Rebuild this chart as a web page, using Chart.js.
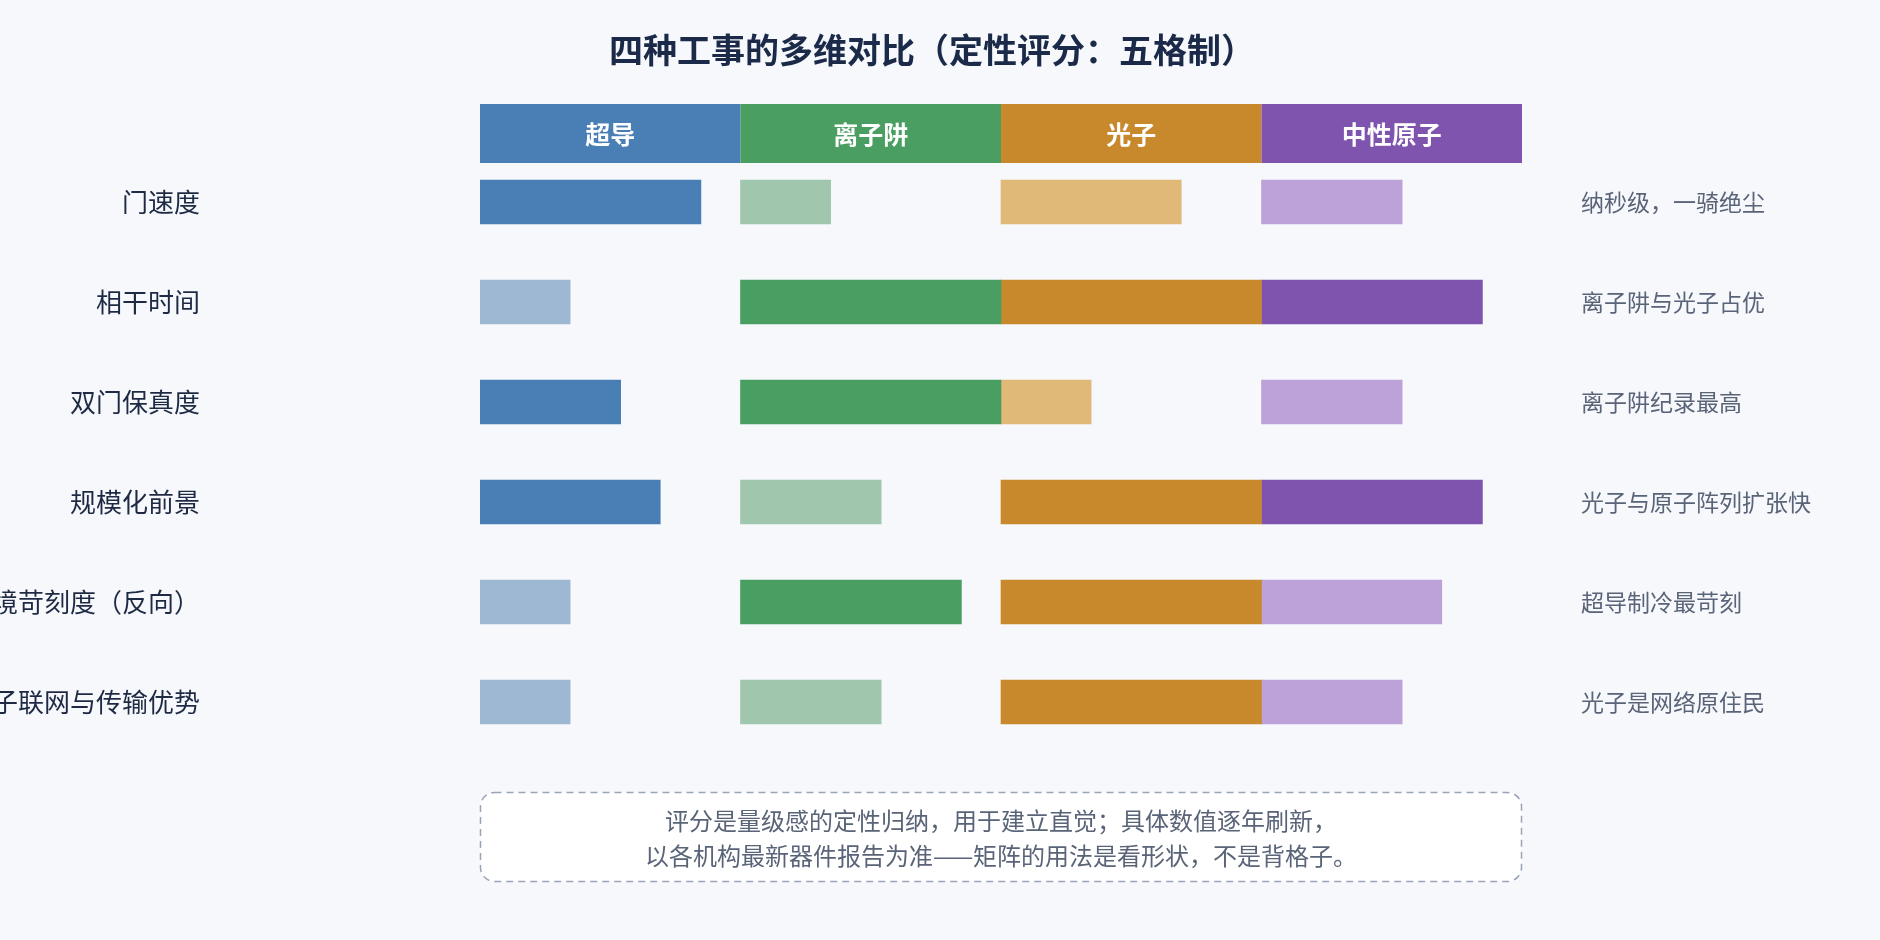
<!DOCTYPE html>
<html><head><meta charset="utf-8">
<script src="https://cdn.jsdelivr.net/npm/chart.js@4"></script>
<style>html,body{margin:0;padding:0;background:#f6f8fc;overflow:hidden}</style>
</head><body>
<canvas id="c" width="1880" height="940"></canvas>
<script>
const title = "四种工事的多维对比（定性评分：五格制）";
const platforms = ["超导","离子阱","光子","中性原子"];
const dimensions = ["门速度","相干时间","双门保真度","规模化前景","环境苛刻度（反向）","量子联网与传输优势"];
const notes = ["纳秒级，一骑绝尘","离子阱与光子占优","离子阱纪录最高","光子与原子阵列扩张快","超导制冷最苛刻","光子是网络原住民"];
const scoreSC = [4.24,1.73,2.7,3.46,1.73,1.73];
const scoreIon = [1.73,5,5,2.7,4.24,2.7];
const scorePh = [3.46,5,1.73,5,5,5];
const scoreNA = [2.7,4.24,2.7,4.24,3.46,2.7];
const strongSC = [1,0,1,1,0,0];
const strongIon = [0,1,1,0,1,0];
const strongPh = [0,1,0,1,1,1];
const strongNA = [0,1,0,1,0,0];
const footnote = ["评分是量级感的定性归纳，用于建立直觉；具体数值逐年刷新，","以各机构最新器件报告为准——矩阵的用法是看形状，不是背格子。"];

const dark = ["#4a7fb5","#4a9e62","#c8882c","#7e54ae"];
const light = ["#9eb8d4","#a0c6ad","#e0b878","#bca2d8"];
const scores = [scoreSC,scoreIon,scorePh,scoreNA];
const strong = [strongSC,strongIon,strongPh,strongNA];
const COL = 5;

const datasets = scores.map((s,i)=>({
  label: platforms[i],
  data: s.map(v=>[i*COL, i*COL+v]),
  backgroundColor: s.map((v,j)=>strong[i][j]?dark[i]:light[i]),
  borderWidth:0, barThickness:44, grouped:false
}));

const deco = {
  id:'deco',
  beforeDraw(ch){
    const c=ch.ctx; c.save(); c.fillStyle='#f6f8fc'; c.fillRect(0,0,ch.width,ch.height); c.restore();
  },
  afterDraw(ch){
    const c=ch.ctx, x=ch.scales.x, y=ch.scales.y;
    c.save();
    c.fillStyle='#1a2a48'; c.font='bold 34px "Noto Sans CJK SC"'; c.textAlign='center'; c.textBaseline='middle';
    c.fillText(title, 932, 50);
    platforms.forEach((p,i)=>{
      const x0=x.getPixelForValue(i*COL), x1=x.getPixelForValue((i+1)*COL);
      c.fillStyle=dark[i]; c.fillRect(x0,104,x1-x0,59);
      c.fillStyle='#fff'; c.font='bold 25px "Noto Sans CJK SC"'; c.fillText(p,(x0+x1)/2,134);
    });
    dimensions.forEach((d,j)=>{
      const yy=y.getPixelForValue(j);
      c.textAlign='right'; c.fillStyle='#1e2a44'; c.font='26px "Noto Sans CJK SC"'; c.fillText(d,200,yy);
      c.textAlign='left'; c.fillStyle='#5a6478'; c.font='23px "Noto Sans CJK SC"'; c.fillText(notes[j],1581,yy);
    });
    const bx=x.getPixelForValue(0), bw=x.getPixelForValue(4*COL)-bx;
    c.beginPath(); c.roundRect(bx+0.5,792.5,bw-1,89,14);
    c.fillStyle='#ffffff'; c.fill();
    c.setLineDash([7,5]); c.strokeStyle='#9aa3b8'; c.lineWidth=1.5; c.stroke();
    c.setLineDash([]);
    c.textAlign='center'; c.fillStyle='#5a6478'; c.font='24px "Noto Sans CJK SC"';
    c.fillText(footnote[0],bx+bw/2,821); c.fillText(footnote[1],bx+bw/2,856);
    c.restore();
  }
};

new Chart(document.getElementById('c'),{
  type:'bar',
  data:{labels:dimensions,datasets},
  options:{
    indexAxis:'y', responsive:false, animation:false, devicePixelRatio:1,
    layout:{padding:{left:480,right:358,top:152,bottom:188}},
    plugins:{legend:{display:false},tooltip:{enabled:false},title:{display:false}},
    scales:{
      x:{type:'linear',min:0,max:4*COL,display:false},
      y:{display:false}
    }
  },
  plugins:[deco]
});
</script>
</body></html>
